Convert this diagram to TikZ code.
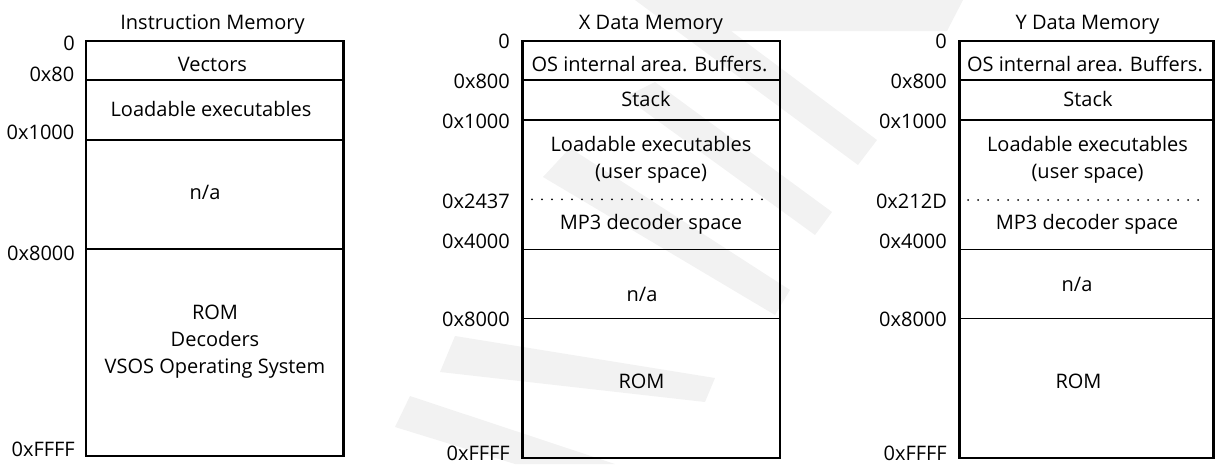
\documentclass[tikz,border=0pt]{standalone}
\usepackage{fontspec}
\setmainfont{Open Sans}
\begin{document}
\begin{tikzpicture}[x=1pt,y=-1pt,font=\fontsize{20}{26.7}\selectfont]

\tikzset{
memframe/.style={line width=2.4pt},
divider/.style={line width=1.5pt},
dotdivider/.style={line width=2pt,line cap=round,dash pattern=on 0pt off 10pt},
addr/.style={anchor=base east,inner sep=0pt},
region/.style={anchor=base,inner sep=0pt},
multiregion/.style={anchor=north,inner sep=0pt,align=center},
memtitle/.style={anchor=base,inner sep=0pt},
watermark/.style={fill=black!5,draw=none}
}

\useasboundingbox (0,0) rectangle (1215,464);

\fill[watermark] (635,0) -- (963,0) -- (947,31) -- (731,31) -- (877,140) -- (858,165) -- cycle;
\fill[watermark] (655,82) -- (832,212) -- (815,235) -- (625,97) -- cycle;
\fill[watermark] (570,148) -- (790,290) -- (775,315) -- (543,177) -- cycle;
\fill[watermark] (455,336) -- (715,378) -- (705,402) -- (440,372) -- cycle;
\fill[watermark] (410,396) -- (615,464) -- (515,464) -- (395,427) -- cycle;

\node[memtitle] (imtitle) at (212.5,29.5) {Instruction Memory};
\draw[memframe] (86,41) rectangle (343.3,456);
\draw[divider] (86,80) -- (343.3,80);
\draw[divider] (86,140) -- (343.3,140);
\draw[divider] (86,249) -- (343.3,249);
\node[region] (imvectors) at (212.5,71.5) {Vectors};
\node[region] (imload) at (211,116.5) {Loadable executables};
\node[region] (imna) at (205,199.5) {n/a};
\node[multiregion] (imrom) at (215,305) {ROM\\Decoders\\VSOS Operating System};
\node[addr] (ima0) at (75,50) {0};
\node[addr] (ima1) at (74.5,81.5) {0x80};
\node[addr] (ima2) at (74.5,139) {0x1000};
\node[addr] (ima3) at (75,260) {0x8000};
\node[addr] (ima4) at (75,456) {0xFFFF};

\node[memtitle] (xmtitle) at (651,29.5) {X Data Memory};
\draw[memframe] (522.3,41) rectangle (780,457.7);
\draw[divider] (522.3,80) -- (780,80);
\draw[divider] (522.3,120) -- (780,120);
\draw[dotdivider] (532,199.3) -- (772,199.3);
\draw[divider] (522.3,249.3) -- (780,249.3);
\draw[divider] (522.3,318.3) -- (780,318.3);
\node[region] (xmos) at (649.5,71.5) {OS internal area. Buffers.};
\node[region] (xmstack) at (646,106.5) {Stack};
\node[multiregion] (xmload) at (651,136.5) {Loadable executables\\(user space)};
\node[region] (xmmp3) at (651,229) {MP3 decoder space};
\node[region] (xmna) at (642,301) {n/a};
\node[region] (xmrom) at (641.5,388) {ROM};
\node[addr] (xma0) at (510,48.5) {0};
\node[addr] (xma1) at (510,88) {0x800};
\node[addr] (xma2) at (510,128) {0x1000};
\node[addr] (xma3) at (510,208) {0x2437};
\node[addr] (xma4) at (510,248) {0x4000};
\node[addr] (xma5) at (510,326.5) {0x8000};
\node[addr] (xma6) at (510,460) {0xFFFF};

\node[memtitle] (ymtitle) at (1087.5,29.5) {Y Data Memory};
\draw[memframe] (959.3,41) rectangle (1213.5,457.7);
\draw[divider] (959.3,80) -- (1213.5,80);
\draw[divider] (959.3,120) -- (1213.5,120);
\draw[dotdivider] (968,200) -- (1208,200);
\draw[divider] (959.3,249.3) -- (1213.5,249.3);
\draw[divider] (959.3,318.3) -- (1213.5,318.3);
\node[region] (ymos) at (1085,71.5) {OS internal area. Buffers.};
\node[region] (ymstack) at (1088,106.5) {Stack};
\node[multiregion] (ymload) at (1087.5,136.5) {Loadable executables\\(user space)};
\node[region] (ymmp3) at (1087,229) {MP3 decoder space};
\node[region] (ymna) at (1077,291.5) {n/a};
\node[region] (ymrom) at (1078.5,388.3) {ROM};
\node[addr] (yma0) at (947,48.3) {0};
\node[addr] (yma1) at (947,88.3) {0x800};
\node[addr] (yma2) at (947,128.3) {0x1000};
\node[addr] (yma3) at (947,208.3) {0x212D};
\node[addr] (yma4) at (947,248.3) {0x4000};
\node[addr] (yma5) at (947,326.7) {0x8000};
\node[addr] (yma6) at (947,460) {0xFFFF};

\end{tikzpicture}
\end{document}
